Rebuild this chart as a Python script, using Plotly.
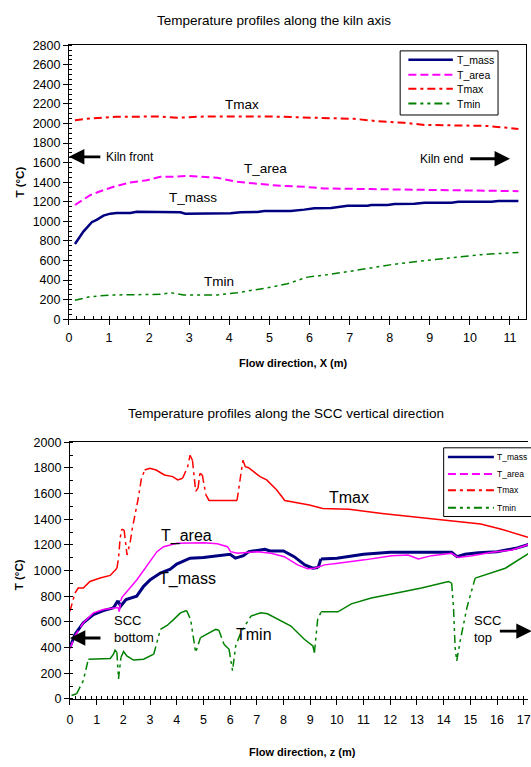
import plotly.graph_objects as go

W, H = 531, 767

# ---------------- Kiln axis (top chart) ----------------
kiln_mass_x = [0.15, 0.36, 0.57, 0.69, 0.86, 1.03, 1.19, 1.53, 1.69, 2.53, 2.78, 2.9, 3.36, 4.03, 4.28, 4.7, 4.87,
               5.53, 5.87, 6.12, 6.54, 6.95, 7.45, 7.54, 7.95, 8.12, 8.62, 8.87, 9.54, 9.71, 10.54, 10.71, 11.21]
kiln_mass_y = [768, 896, 991, 1015, 1059, 1079, 1086, 1086, 1099, 1099, 1093, 1079, 1079, 1083, 1093, 1096, 1106,
               1106, 1120, 1133, 1137, 1160, 1160, 1167, 1167, 1177, 1181, 1191, 1191, 1201, 1201, 1208, 1208]

kiln_area_x = [0.15, 0.53, 0.86, 1.19, 1.53, 1.94, 2.28, 2.53, 2.95, 3.36, 3.7, 4.2, 4.7, 5.03, 5.28, 5.87, 6.37,
               7.54, 9.2, 10.04, 11.21]
kiln_area_y = [1167, 1269, 1319, 1363, 1397, 1421, 1455, 1455, 1465, 1455, 1445, 1404, 1384, 1370, 1363, 1353, 1336,
               1330, 1319, 1313, 1309]

kiln_max_x = [0.15, 0.53, 1.19, 2.28, 2.7, 3.36, 5.03, 5.87, 7.12, 7.7, 8.37, 8.87, 9.62, 10.46, 11.21]
kiln_max_y = [2034, 2052, 2069, 2072, 2059, 2072, 2072, 2062, 2048, 2024, 2007, 1986, 1980, 1975, 1945]

kiln_min_x = [0.15, 0.53, 1.03, 1.69, 2.28, 2.53, 2.86, 3.7, 4.2, 4.95, 5.45, 5.95, 6.37, 7.12, 8.04, 8.71, 9.46,
              10.29, 11.21]
kiln_min_y = [193, 230, 247, 254, 254, 271, 247, 247, 271, 321, 362, 430, 450, 497, 558, 592, 626, 660, 683]

# ---------------- SCC vertical (bottom chart) ----------------
scc_mass_x = [0, 0.19, 0.5, 0.88, 1.25, 1.63, 1.8, 1.9, 2.1, 2.5, 2.76, 3.01, 3.39, 3.76, 4.0, 4.5, 5.0, 6.0, 6.2,
              6.5, 6.7, 7.3, 7.5, 8.0, 8.4, 8.8, 9.1, 9.3, 9.4, 10.0, 11.0, 12.0, 14.3, 14.5, 14.8, 15.3, 16.0, 16.7,
              17.2]
scc_mass_y = [400, 503, 593, 657, 688, 709, 766, 722, 773, 800, 877, 928, 980, 1010, 1050, 1096, 1101, 1127, 1096,
              1116, 1147, 1165, 1152, 1152, 1108, 1044, 1018, 1023, 1090, 1096, 1127, 1142, 1142, 1108, 1127, 1139,
              1147, 1173, 1204]

scc_area_x = [0, 0.19, 0.5, 0.88, 1.25, 1.63, 1.8, 1.85, 1.9, 1.95, 2.51, 2.89, 3.26, 3.51, 4.01, 5.02, 5.52, 5.9,
              6.02, 6.27, 6.65, 7.03, 7.53, 8.03, 8.53, 8.91, 9.16, 9.54, 10.04, 11.04, 12.05, 12.67, 13.05, 13.55,
              14.3, 14.55, 15.06, 15.81, 16.56, 17.19]
scc_area_y = [390, 490, 593, 670, 696, 709, 712, 680, 760, 791, 928, 1044, 1147, 1186, 1212, 1217, 1209, 1186,
              1147, 1134, 1142, 1147, 1134, 1108, 1044, 1013, 1018, 1044, 1057, 1083, 1116, 1121, 1090, 1116,
              1134, 1101, 1116, 1142, 1160, 1204]

scc_max_x = [0, 0.19, 0.31, 0.5, 0.75, 1.13, 1.51, 1.76, 1.82, 1.88, 1.94, 2.03, 2.07, 2.14, 2.26, 2.33, 2.55,
             2.68, 2.8, 2.99, 3.23, 3.54, 3.85, 4.04, 4.22, 4.41, 4.5, 4.59, 4.71, 4.8, 4.87, 4.96, 5.09, 5.21,
             6.26, 6.38, 6.48, 6.57, 6.69, 7.12, 7.37, 7.74, 8.05, 8.97, 9.47, 10.46, 11.69, 12.93, 14.16, 15.39,
             16.13, 16.63, 17.16]
scc_max_y = [683, 825, 864, 864, 915, 941, 962, 1018, 1096, 1250, 1322, 1315, 1224, 1121, 1224, 1320, 1553,
             1719, 1783, 1796, 1783, 1745, 1732, 1706, 1719, 1809, 1898, 1859, 1617, 1643, 1757, 1745, 1591, 1546,
             1546, 1719, 1859, 1809, 1801, 1732, 1706, 1630, 1546, 1510, 1484, 1477, 1444, 1418, 1393, 1362,
             1324, 1291, 1260]

scc_min_x = [0.06, 0.25, 0.5, 0.69, 1.25, 1.51, 1.63, 1.69, 1.76, 1.82, 1.91, 2.01, 2.13, 2.38, 2.76, 3.14, 3.39,
             3.64, 3.89, 4.14, 4.37, 4.52, 4.71, 4.89, 5.14, 5.46, 5.58, 5.77, 5.96, 6.09, 6.21, 6.4, 6.78, 7.15,
             7.4, 7.9, 8.28, 8.78, 9.1, 9.16, 9.28, 9.41, 10.04, 10.54, 11.29, 12.05, 13.17, 14.18, 14.3, 14.37,
             14.43, 14.49, 14.62, 14.87, 15.18, 15.56, 16.31, 17.19]
scc_min_y = [26, 39, 142, 309, 315, 315, 348, 379, 361, 155, 322, 369, 335, 302, 309, 348, 541, 572, 619, 670,
             688, 619, 361, 477, 508, 541, 534, 425, 387, 219, 412, 516, 645, 670, 663, 606, 567, 464, 412, 361,
             619, 678, 678, 740, 786, 817, 864, 915, 902, 709, 400, 296, 451, 709, 941, 967, 1018, 1134]

series_names = ["T_mass", "T_area", "Tmax", "Tmin"]
kiln_ticks = list(range(0, 12))
scc_ticks = list(range(0, 18))

# ---------------- styling ----------------
NAVY, MAG, RED, GRN = "#000080", "#FF00FF", "#FF0000", "#008000"
DASH_AREA = "8px,4px"
DASH_MAX = "8px,4px,3px,4px"
DASH_MIN = "8px,4px,3px,4px,3px,4px"
FONT = "Liberation Sans, Arial, sans-serif"
series_colors = [NAVY, MAG, RED, GRN]
series_dashes = ["solid", DASH_AREA, DASH_MAX, DASH_MIN]


def px_x(p):
    return p / W


def px_y(p):
    return 1 - p / H


# plot area geometry (pixels)
T_L, T_R, T_T, T_B = 66.7, 529.0, 39.0, 318.0
B_L, B_R, B_T, B_B = 67.7, 531.0, 443.3, 704.7
T_XMAX, B_XMAX = 11.4, 17.16

fig = go.Figure()

kiln_sets = [
    (kiln_mass_x, kiln_mass_y, 2.5),
    (kiln_area_x, kiln_area_y, 2),
    (kiln_max_x, kiln_max_y, 2),
    (kiln_min_x, kiln_min_y, 1.5),
]
for name, col, dash, (xs, ys, w) in zip(series_names, series_colors, series_dashes, kiln_sets):
    fig.add_trace(go.Scatter(x=xs, y=ys, mode="lines", name=name, xaxis="x", yaxis="y", showlegend=False,
                             line=dict(color=col, dash=dash, width=w)))


def runs(xs, ys, sx, sy, min_len=7.0, min_slope=1.5):
    """Split a dense series into solid runs and steep (dashed) runs, Excel-like look."""
    solid_x, solid_y, dash_x, dash_y = [], [], [], []
    cur = None
    for i in range(len(xs) - 1):
        dx = (xs[i + 1] - xs[i]) * sx
        dy = (ys[i + 1] - ys[i]) * sy
        length = (dx * dx + dy * dy) ** 0.5
        steep = length > min_len and abs(dy) > min_slope * abs(dx)
        tx, ty = (dash_x, dash_y) if steep else (solid_x, solid_y)
        if cur != steep:
            if tx:
                tx.append(None)
                ty.append(None)
            tx.append(xs[i])
            ty.append(ys[i])
        tx.append(xs[i + 1])
        ty.append(ys[i + 1])
        cur = steep
    return solid_x, solid_y, dash_x, dash_y


sx_b = (B_R - B_L) / B_XMAX
sy_b = (B_B - B_T) / 2000.0
scc_sets = [
    (scc_mass_x, scc_mass_y, 3),
    (scc_area_x, scc_area_y, 1.5),
    (scc_max_x, scc_max_y, 1.5),
    (scc_min_x, scc_min_y, 1.5),
]
for name, col, dash, (xs, ys, w) in zip(series_names, series_colors, series_dashes, scc_sets):
    s_x, s_y, d_x, d_y = runs(xs, ys, sx_b, sy_b)
    fig.add_trace(go.Scatter(x=s_x, y=s_y, mode="lines", name=name, xaxis="x2", yaxis="y2", showlegend=False,
                             line=dict(color=col, width=w), connectgaps=False))
    if d_x:
        fig.add_trace(go.Scatter(x=d_x, y=d_y, mode="lines", name=name, xaxis="x2", yaxis="y2",
                                 showlegend=False, line=dict(color=col, width=w, dash=dash),
                                 connectgaps=False))

axis_common = dict(showline=True, linecolor="black", linewidth=1, showgrid=False, zeroline=False,
                   ticks="outside", ticklen=5, tickcolor="black", tickwidth=1,
                   tickfont=dict(family=FONT, size=12.5, color="black"))

fig.update_layout(
    width=W, height=H, margin=dict(l=0, r=0, t=0, b=0),
    paper_bgcolor="white", plot_bgcolor="white",
    font=dict(family=FONT, color="black"),
    showlegend=False,
    xaxis=dict(domain=[px_x(T_L), px_x(T_R)], range=[0, T_XMAX], anchor="y", mirror=True,
               tickvals=kiln_ticks, ticklabelstandoff=2,
               minor=dict(ticks="inside", dtick=0.2, ticklen=3, tickcolor="black"), **axis_common),
    yaxis=dict(domain=[px_y(T_B), px_y(T_T)], range=[0, 2800], anchor="x", mirror=True, dtick=200,
               minor=dict(ticks="inside", dtick=50, ticklen=3, tickcolor="black"), **axis_common),
    xaxis2=dict(domain=[px_x(B_L), 1.0], range=[0, B_XMAX], anchor="y2", mirror=True,
                tickvals=scc_ticks, ticklabelstandoff=4, ticklabeloverflow="allow",
                minor=dict(ticks="inside", dtick=0.2, ticklen=3, tickcolor="black"), **axis_common),
    yaxis2=dict(domain=[px_y(B_B), px_y(B_T)], range=[0, 2000], anchor="x2", dtick=200,
                minor=dict(ticks="inside", dtick=100, ticklen=3, tickcolor="black"), **axis_common),
)

shapes = []
ann = []

# ---- legends (boxed keys, drawn in pixel positions of the reference) ----
legend_specs = [
    # box left, top, right, bottom, sample x0, x1, text x, item ys, font size, sample widths
    (401.7, 44.7, 500.7, 110.0, 410, 455, 457, [53.7, 69.0, 83.3, 98.3], 10.5, [2.5, 2, 2, 2]),
    (445.7, 449.0, 545.0, 519.0, 450, 496.5, 498, [458.3, 475.7, 492.3, 510.0], 8.5, [2.5, 2, 2, 2]),
]
for (l, t, r, b, s0, s1, tx, ys, fs, lws) in legend_specs:
    shapes.append(dict(type="rect", xref="paper", yref="paper", x0=px_x(l), x1=px_x(r), y0=px_y(b), y1=px_y(t),
                       line=dict(color="black", width=1), fillcolor="white", layer="above"))
    for name, col, dash, yy, lw in zip(series_names, series_colors, series_dashes, ys, lws):
        shapes.append(dict(type="line", xref="paper", yref="paper", x0=px_x(s0), x1=px_x(s1), y0=px_y(yy),
                           y1=px_y(yy), line=dict(color=col, width=lw, dash=dash), layer="above"))
        ann.append(dict(text=name, x=px_x(tx), y=px_y(yy), xref="paper", yref="paper", showarrow=False,
                        xanchor="left", yanchor="middle", font=dict(size=fs)))

# titles
ann.append(dict(text="Temperature profiles along the kiln axis", x=px_x(274), y=px_y(14), xref="paper",
                yref="paper", showarrow=False, font=dict(size=13.5), xanchor="center", yanchor="middle"))
ann.append(dict(text="Temperature profiles along the SCC vertical direction", x=px_x(286), y=px_y(414),
                xref="paper", yref="paper", showarrow=False, font=dict(size=13.5), xanchor="center",
                yanchor="middle"))
# axis titles
ann.append(dict(text="<b>Flow direction, X (m)</b>", x=px_x(294), y=px_y(363), xref="paper", yref="paper",
                showarrow=False, font=dict(size=11), xanchor="center", yanchor="middle"))
ann.append(dict(text="<b>Flow direction, z (m)</b>", x=px_x(303), y=px_y(759), xref="paper", yref="paper",
                showarrow=False, font=dict(size=11), xanchor="center", yanchor="middle"))
ann.append(dict(text="<b>T (°C)</b>", x=px_x(17), y=px_y(178), xref="paper", yref="paper", textangle=-90,
                showarrow=False, font=dict(size=11.5), xanchor="center", yanchor="middle"))
ann.append(dict(text="<b>T (°C)</b>", x=px_x(17), y=px_y(578), xref="paper", yref="paper", textangle=-90,
                showarrow=False, font=dict(size=11.5), xanchor="center", yanchor="middle"))

# series labels top
for t, x, y in [("Tmax", 4.32, 2190), ("T_area", 4.9, 1540), ("T_mass", 3.1, 1240), ("Tmin", 3.74, 385)]:
    ann.append(dict(text=t, x=x, y=y, xref="x", yref="y", showarrow=False, font=dict(size=13.5)))
# series labels bottom
for t, x, y in [("Tmax", 10.45, 1571), ("T_area", 4.36, 1271), ("T_mass", 4.41, 931), ("Tmin", 6.9, 502)]:
    ann.append(dict(text=t, x=x, y=y, xref="x2", yref="y2", showarrow=False, font=dict(size=16)))

# direction arrows and labels
arrow = dict(showarrow=True, text="", arrowhead=2, arrowsize=1.1, arrowwidth=2.8, arrowcolor="black")
ann.append(dict(x=0.0, y=1660, ax=0.82, ay=1660, xref="x", yref="y", axref="x", ayref="y", **arrow))
ann.append(dict(text="Kiln front", x=0.88, y=1660, xref="x", yref="y", showarrow=False, xanchor="left",
                font=dict(size=12)))
ann.append(dict(x=11.0, y=1640, ax=9.97, ay=1640, xref="x", yref="y", axref="x", ayref="y", **arrow))
ann.append(dict(text="Kiln end", x=9.88, y=1640, xref="x", yref="y", showarrow=False, xanchor="right",
                font=dict(size=12)))
ann.append(dict(x=0.0, y=474, ax=1.2, ay=474, xref="x2", yref="y2", axref="x2", ayref="y2", **arrow))
ann.append(dict(text="SCC<br>bottom", x=1.57, y=545, xref="x2", yref="y2", showarrow=False, xanchor="left",
                align="left", font=dict(size=13)))
ann.append(dict(x=17.3, y=528, ax=16.05, ay=528, xref="x2", yref="y2", axref="x2", ayref="y2", **arrow))
ann.append(dict(text="SCC<br>top", x=15.08, y=545, xref="x2", yref="y2", showarrow=False, xanchor="left",
                align="left", font=dict(size=13)))

fig.update_layout(annotations=ann, shapes=shapes)
fig.write_html("out.html", config={"displayModeBar": False})

# remove the default page margin so the figure fills the window exactly
with open("out.html", "r", encoding="utf-8") as f:
    html = f.read()
html = html.replace("<head>", "<head><style>html,body{margin:0;padding:0;overflow:hidden;}</style>", 1)
with open("out.html", "w", encoding="utf-8") as f:
    f.write(html)
